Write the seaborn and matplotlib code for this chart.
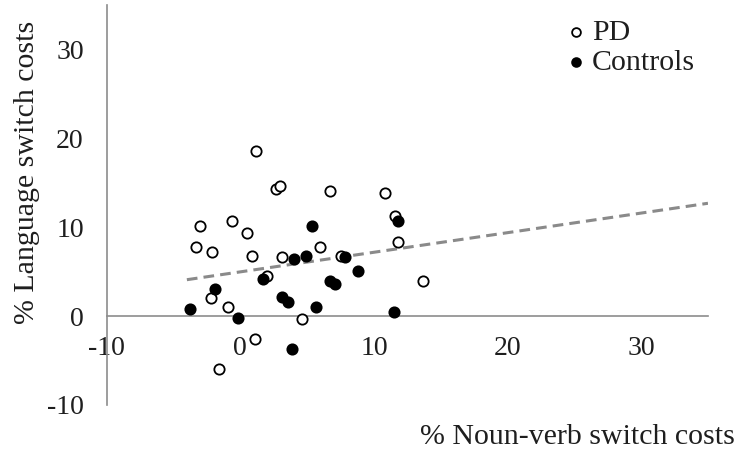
import matplotlib
matplotlib.use("Agg")
import matplotlib.pyplot as plt
import seaborn as sns
import pandas as pd
import numpy as np

# Data
pd_x = [1.2, 2.7, 3.0, 6.7, 10.8, 11.6, 11.8, 13.7, -3.0, -0.6, 0.5, -3.3, -2.1, 0.9,
        3.1, 6.0, 7.5, 2.0, -2.2, -0.9, 4.6, 1.1, -1.6]
pd_y = [18.6, 14.3, 14.7, 14.1, 13.9, 11.3, 8.3, 4.0, 10.1, 10.7, 9.3, 7.8, 7.2, 6.8,
        6.6, 7.8, 6.8, 4.5, 2.0, 1.0, -0.3, -2.6, -6.0]
ctrl_x = [5.4, 11.8, 4.0, 4.9, 7.8, 8.8, 1.7, 6.7, 7.1, -1.9, 3.1, 3.6, 5.7, -3.8,
          -0.2, 11.5, 3.9]
ctrl_y = [10.1, 10.7, 6.4, 6.8, 6.7, 5.1, 4.2, 4.0, 3.6, 3.0, 2.2, 1.6, 1.0, 0.8,
          -0.2, 0.5, -3.7]
trend_x = [-4.0, 35.0]
trend_y = [4.1, 12.7]
ticks = [-10, 0, 10, 20, 30]
x_label = "% Noun-verb switch costs"
y_label = "% Language switch costs"

df = pd.DataFrame({
    "x": pd_x + ctrl_x,
    "y": pd_y + ctrl_y,
    "group": ["PD"] * len(pd_x) + ["Controls"] * len(ctrl_x),
})

sns.set_theme(style="white")
plt.rcParams["font.family"] = ["Liberation Serif", "DejaVu Serif"]
plt.rcParams["axes.unicode_minus"] = False

fig = plt.figure(figsize=(7.39, 4.57), dpi=100)
ax = fig.add_axes([0.1444, 0.1138, 0.8136, 0.875])

axis_col = "#8c8c8c"
txt_col = "#1e1e1e"
ax.plot(trend_x, trend_y, ls=(0, (3.5, 2)), color="#8a8a8a", lw=2.2, zorder=1)

sns.scatterplot(data=df[df.group == "PD"], x="x", y="y", ax=ax, color="white",
                edgecolor="black", linewidth=1.3, s=55, label="PD", zorder=3)
sns.scatterplot(data=df[df.group == "Controls"], x="x", y="y", ax=ax, color="black",
                edgecolor="black", linewidth=1.3, s=55, label="Controls", zorder=3)

ax.set_xlim(-10, 35)
ax.set_ylim(-10, 35)
ax.set_xticks(ticks)
ax.set_yticks(ticks)
ax.spines["top"].set_visible(False)
ax.spines["right"].set_visible(False)
ax.spines["bottom"].set_position(("data", 0))
ax.spines["left"].set_position(("data", -10))
for s in ["bottom", "left"]:
    ax.spines[s].set_color(axis_col)
    ax.spines[s].set_linewidth(1.2)
ax.tick_params(axis="both", which="both", direction="out", length=5.5, width=1.2,
               color=axis_col, labelsize=20, labelcolor=txt_col)
ax.tick_params(axis="x", pad=9)
ax.tick_params(axis="y", pad=11)
ax.set_xlabel("")
ax.set_ylabel("")
fig.text(0.995, 0.044, x_label, ha="right", va="center", fontsize=21.5, color=txt_col)
fig.text(0.036, 0.623, y_label, ha="center", va="center", rotation=90, fontsize=21.5,
         color=txt_col)

leg = ax.legend(loc="upper left", bbox_to_anchor=(0.745, 0.995), frameon=False,
                fontsize=21.5, handletextpad=0.25, handlelength=0.6, labelspacing=0.1,
                markerscale=0.85, borderaxespad=0)
for t in leg.get_texts():
    t.set_color(txt_col)

fig.savefig("out.png", dpi=100)
